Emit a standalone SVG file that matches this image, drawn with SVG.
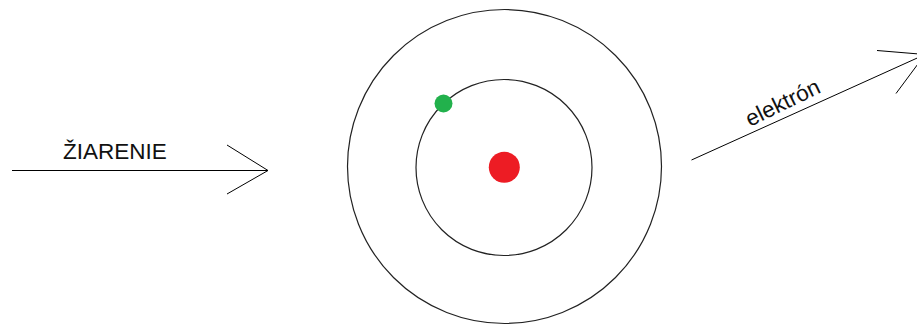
<svg xmlns="http://www.w3.org/2000/svg" width="917" height="325" viewBox="0 0 917 325">
<style>
.ln{stroke:#000;stroke-width:1;fill:none}
.orb{stroke:#222;stroke-width:1.2;fill:none}
.t{font-family:"Liberation Sans",Arial,sans-serif;font-size:22.5px;fill:#111}
</style>
<rect width="917" height="325" fill="#fff"/>
<g id="atom">
<circle class="orb" cx="504.5" cy="166.5" r="157"/>
<circle class="orb" cx="504" cy="167.5" r="88"/>
<circle cx="504.3" cy="167.3" r="15.5" fill="#ed1c24"/>
<circle cx="443.5" cy="103.5" r="9" fill="#22b14c"/>
</g>
<g id="connectors">
<g id="ziarenie-arrow">
<line class="ln" x1="12" y1="170.5" x2="268" y2="170.5"/>
<polyline class="ln" points="227,145 268,170.5 227,194"/>
</g>
<g id="elektron-arrow">
<line class="ln" x1="691.5" y1="160" x2="925" y2="54.5"/>
<polyline class="ln" points="877,50.5 925,54.5 896,93.5"/>
</g>
</g>
<g id="labels">
<text class="t" x="63" y="159">ŽIARENIE</text>
<text class="t" transform="translate(750 127) rotate(-26)" x="0" y="0">elektrón</text>
</g>
</svg>
